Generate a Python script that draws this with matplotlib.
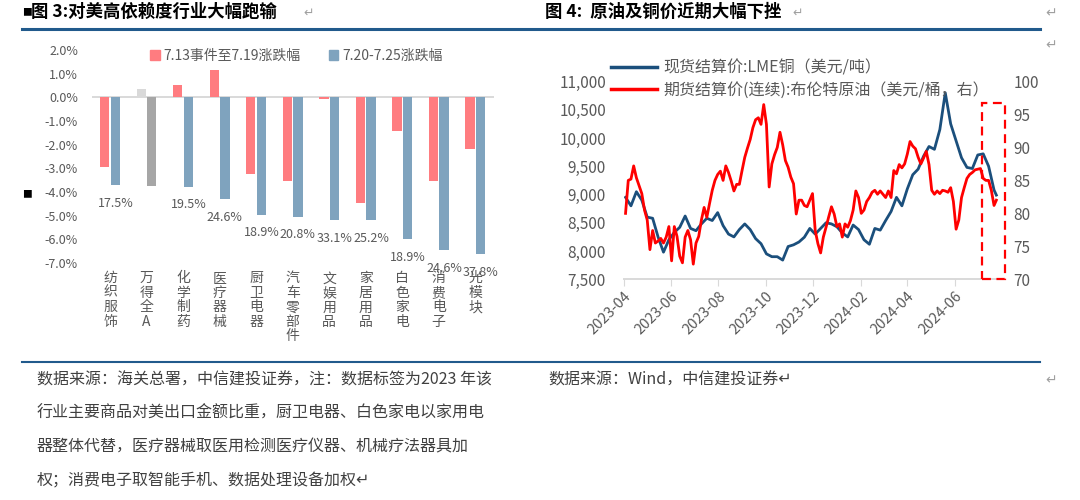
import numpy as np
import pandas as pd
import matplotlib
matplotlib.use("Agg")
import matplotlib.pyplot as plt
import matplotlib.dates as mdates
from matplotlib.patches import Patch, Rectangle
from matplotlib.lines import Line2D
from matplotlib.ticker import FuncFormatter, MultipleLocator

plt.rcParams['font.family'] = ['Noto Sans CJK SC', 'DejaVu Sans']
plt.rcParams['axes.unicode_minus'] = False

# ---------------- data: figure 3 ----------------
industries = ['纺织服饰', '万得全A', '化学制药', '医疗器械', '厨卫电器', '汽车零部件',
              '文娱用品', '家居用品', '白色家电', '消费电子', '光模块']
chg_0713_0719 = [-2.96, 0.34, 0.52, 1.15, -3.24, -3.52, -0.07, -4.46, -1.41, -3.52, -2.19]
chg_0720_0725 = [-3.71, -3.74, -3.78, -4.30, -4.96, -5.05, -5.20, -5.19, -6.01, -6.46, -6.63]
us_export_share = ['17.5%', '', '19.5%', '24.6%', '18.9%', '20.8%', '33.1%', '25.2%',
                   '18.9%', '24.6%', '37.8%']
legend_left = ['7.13事件至7.19涨跌幅', '7.20-7.25涨跌幅']

# ---------------- data: figure 4 ----------------
copper_start = '2023-04-03'
copper_lme = [8950, 8800, 9050, 8900, 8600, 8580, 8250, 7980, 8200, 8330,
              8420, 8620, 8400, 8360, 8480, 8580, 8540, 8680, 8450, 8300,
              8250, 8380, 8480, 8380, 8220, 8130, 7950, 7900, 7900, 7840,
              8080, 8110, 8160, 8245, 8400, 8300, 8400, 8500, 8480, 8430,
              8320, 8250, 8460, 8380, 8200, 8120, 8400, 8370, 8540, 8700,
              8950, 8800, 9100, 9350, 9450, 9680, 9850, 9800, 10150, 10800,
              10250, 9950, 9650, 9480, 9460, 9700, 9720, 9500, 9080]
brent = [80.0, 85.0, 85.2, 87.2, 85.4, 84.2, 83.0, 80.5, 79.0, 74.5,
         77.4, 75.5, 75.8, 76.2, 75.5, 76.4, 78.0, 72.8, 78.0, 76.5,
         73.5, 72.5, 76.4, 77.4, 76.0, 72.3, 75.5, 76.5, 79.0, 80.9,
         79.4, 81.5, 83.5, 85.0, 85.9, 86.4, 85.0, 87.2, 86.2, 84.9,
         83.4, 84.4, 84.4, 86.5, 88.5, 89.9, 91.2, 93.0, 94.2, 94.5,
         93.5, 96.5, 93.5, 84.0, 87.5, 88.9, 90.0, 92.3, 90.4, 88.0,
         87.0, 85.5, 84.5, 79.9, 82.0, 82.0, 81.2, 81.0, 82.0, 83.0,
         77.4, 75.4, 74.0, 76.4, 77.9, 79.5, 81.0, 79.9, 78.0, 78.4,
         76.4, 78.4, 77.9, 78.9, 80.5, 83.4, 82.4, 80.0, 80.5, 81.8,
         82.4, 83.2, 83.5, 82.9, 83.4, 82.9, 82.4, 83.4, 82.4, 86.5,
         86.0, 87.4, 86.9, 87.5, 89.0, 90.9, 90.2, 89.8, 88.5, 87.5,
         88.4, 89.4, 87.4, 83.5, 82.9, 83.4, 83.0, 83.5, 83.4, 83.2,
         83.9, 81.8, 77.6, 79.0, 82.4, 83.9, 85.3, 85.9, 86.2, 86.6,
         86.7, 86.8, 85.3, 85.0, 85.0, 83.5, 81.2]
last_date = '2024-07-25'
copper_last = 8990
brent_last = 82.0
legend_right = ['现货结算价:LME铜（美元/吨）', '期货结算价(连续):布伦特原油（美元/桶，右）']
highlight_dates = ['2024-07-07', '2024-08-05']
highlight_top = 96.7

copper_dates = list(pd.date_range(copper_start, periods=len(copper_lme), freq='7D')) + [pd.Timestamp(last_date)]
copper_vals = copper_lme + [copper_last]
brent_dates = [pd.Timestamp(copper_start) + pd.Timedelta(hours=84 * i) for i in range(len(brent))] + [pd.Timestamp(last_date)]
brent_vals = brent + [brent_last]

# ---------------- layout helpers ----------------
W, H = 1080, 500
fig = plt.figure(figsize=(10.8, 5.0), dpi=100)


def fx(x):
    return x / W


def fy(y):
    return 1 - y / H


GRAY = '#595959'
AXIS_GRAY = '#D9D9D9'
NAVY = '#215A8C'
PINK = '#FF7C80'
STEEL = '#7FA3BE'

# ---------------- figure 3 (bars) ----------------
ax1 = fig.add_axes([fx(91.75), fy(262.9), (493.5 - 91.75) / W, (262.9 - 50) / H])
x = np.arange(len(industries))
c1 = ['#D9D9D9' if n == '万得全A' else PINK for n in industries]
c2 = ['#A6A6A6' if n == '万得全A' else STEEL for n in industries]
off, bw = 0.145, 0.255
ax1.bar(x - off, chg_0713_0719, bw, color=c1, zorder=2)
ax1.bar(x + off, chg_0720_0725, bw, color=c2, zorder=2)
ax1.axhline(0, color=AXIS_GRAY, lw=1.4, zorder=1)
ax1.set_xlim(-0.5, len(industries) - 0.5)
ax1.set_ylim(-7, 2)
ax1.yaxis.set_major_locator(MultipleLocator(1))
ax1.yaxis.set_major_formatter(FuncFormatter(lambda v, _: f'{v:.1f}%'.replace('-0.0', '0.0')))
ax1.set_xticks([])
ax1.tick_params(axis='y', length=0, labelsize=9, labelcolor=GRAY, pad=10)
for s in ax1.spines.values():
    s.set_visible(False)
for i, lab in enumerate(us_export_share):
    if lab:
        ax1.annotate(lab, (i + off, chg_0720_0725[i]), xytext=(0, -13), textcoords='offset points',
                     ha='center', va='center', fontsize=9, color=GRAY)
for i, name in enumerate(industries):
    ax1.annotate('\n'.join(name), (i, 0), xycoords=('data', 'axes fraction'), xytext=(0, -6),
                 textcoords='offset points', ha='center', va='top', fontsize=10, color=GRAY,
                 linespacing=1.05)
h1 = [Patch(color=PINK), Patch(color=STEEL)]
fig.legend(h1, legend_left, loc='center left', bbox_to_anchor=(fx(143), fy(56)), ncol=2,
           frameon=False, fontsize=10, labelcolor=GRAY, handlelength=0.7, handleheight=0.7,
           handletextpad=0.3, columnspacing=2.0, borderpad=0)

# ---------------- figure 4 (lines) ----------------
ax2 = fig.add_axes([fx(624), fy(279.3), (1001 - 624) / W, (279.3 - 81.5) / H])
ax3 = ax2.twinx()
ax2.plot(copper_dates, copper_vals, color='#1B4F7C', lw=2.0, zorder=3)
ax3.plot(brent_dates, brent_vals, color='#FF0000', lw=2.0, zorder=3)
ax2.set_ylim(7500, 11000)
ax3.set_ylim(70, 100)
ax2.set_xlim(pd.Timestamp('2023-04-01'), pd.Timestamp('2024-07-31'))
ax2.yaxis.set_major_locator(MultipleLocator(500))
ax3.yaxis.set_major_locator(MultipleLocator(5))
ax2.yaxis.set_major_formatter(FuncFormatter(lambda v, _: f'{int(v):,}'))
ax3.yaxis.set_major_formatter(FuncFormatter(lambda v, _: f'{int(v)}'))
ax2.xaxis.set_major_locator(mdates.MonthLocator(bymonth=[2, 4, 6, 8, 10, 12]))
ax2.xaxis.set_major_formatter(mdates.DateFormatter('%Y-%m'))
ax2.tick_params(axis='x', length=5, color=AXIS_GRAY, labelsize=10.5, labelcolor=GRAY, pad=2)
plt.setp(ax2.get_xticklabels(), rotation=45, ha='right', rotation_mode='anchor')
ax2.tick_params(axis='y', length=0, labelsize=11, labelcolor=GRAY, pad=13)
ax3.tick_params(axis='y', length=0, labelsize=11, labelcolor=GRAY, pad=9)
for s in ['top', 'left', 'right']:
    ax2.spines[s].set_visible(False)
ax2.spines['bottom'].set_color(AXIS_GRAY)
ax2.spines['bottom'].set_linewidth(1.4)
for s in ax3.spines.values():
    s.set_visible(False)

x0 = mdates.date2num(pd.Timestamp(highlight_dates[0]))
x1 = mdates.date2num(pd.Timestamp(highlight_dates[1]))
ax3.add_patch(Rectangle((x0, 70), x1 - x0, highlight_top - 70, fill=False, edgecolor='#FF0000',
                        lw=1.6, linestyle=(0, (4, 2.5)), clip_on=False, zorder=4))

h2 = [Line2D([], [], color='#1B4F7C', lw=2.5), Line2D([], [], color='#FF0000', lw=2.5)]
ax3.legend(h2, legend_right, loc='upper left', bbox_to_anchor=(fx(603), fy(52)),
           bbox_transform=fig.transFigure, frameon=False, fontsize=11.5, labelcolor=GRAY,
           handlelength=2.9, handletextpad=0.4, labelspacing=0.3, borderpad=0)

# ---------------- titles, rules, notes ----------------
fig.text(fx(22), fy(12), '■', fontsize=7, va='center', ha='left')
fig.text(fx(31), fy(12), '图 3:对美高依赖度行业大幅跑输', fontsize=12.5, weight='bold', va='center')
fig.text(fx(303), fy(13), '↵', fontsize=9, color='#A0A0A0', va='center')
fig.text(fx(545), fy(12), '图 4:  原油及铜价近期大幅下挫', fontsize=12.5, weight='bold', va='center')
fig.text(fx(792), fy(13), '↵', fontsize=9, color='#A0A0A0', va='center')
fig.text(fx(1045), fy(13), '↵', fontsize=10, color='#A0A0A0', va='center')
fig.text(fx(1045), fy(45), '↵', fontsize=10, color='#A0A0A0', va='center')
fig.text(fx(1045), fy(380), '↵', fontsize=10, color='#A0A0A0', va='center')
fig.text(fx(22), fy(194), '■', fontsize=7, va='center', ha='left')
fig.add_artist(Line2D([fx(22), fx(1040)], [fy(28.5), fy(28.5)], color=NAVY, lw=2.2))
fig.add_artist(Line2D([fx(22), fx(1040)], [fy(362), fy(362)], color=NAVY, lw=1.5))

notes_left = ['数据来源：海关总署，中信建投证券，注：数据标签为2023 年该',
              '行业主要商品对美出口金额比重，厨卫电器、白色家电以家用电',
              '器整体代替，医疗器械取医用检测医疗仪器、机械疗法器具加',
              '权；消费电子取智能手机、数据处理设备加权↵']
for k, line in enumerate(notes_left):
    fig.text(fx(37), fy(380 + 33.3 * k), line, fontsize=11.5, color='#404040', va='center')
fig.text(fx(548), fy(380), '数据来源：Wind，中信建投证券↵', fontsize=11.5, color='#404040', va='center')

fig.savefig('out.png', dpi=100)
